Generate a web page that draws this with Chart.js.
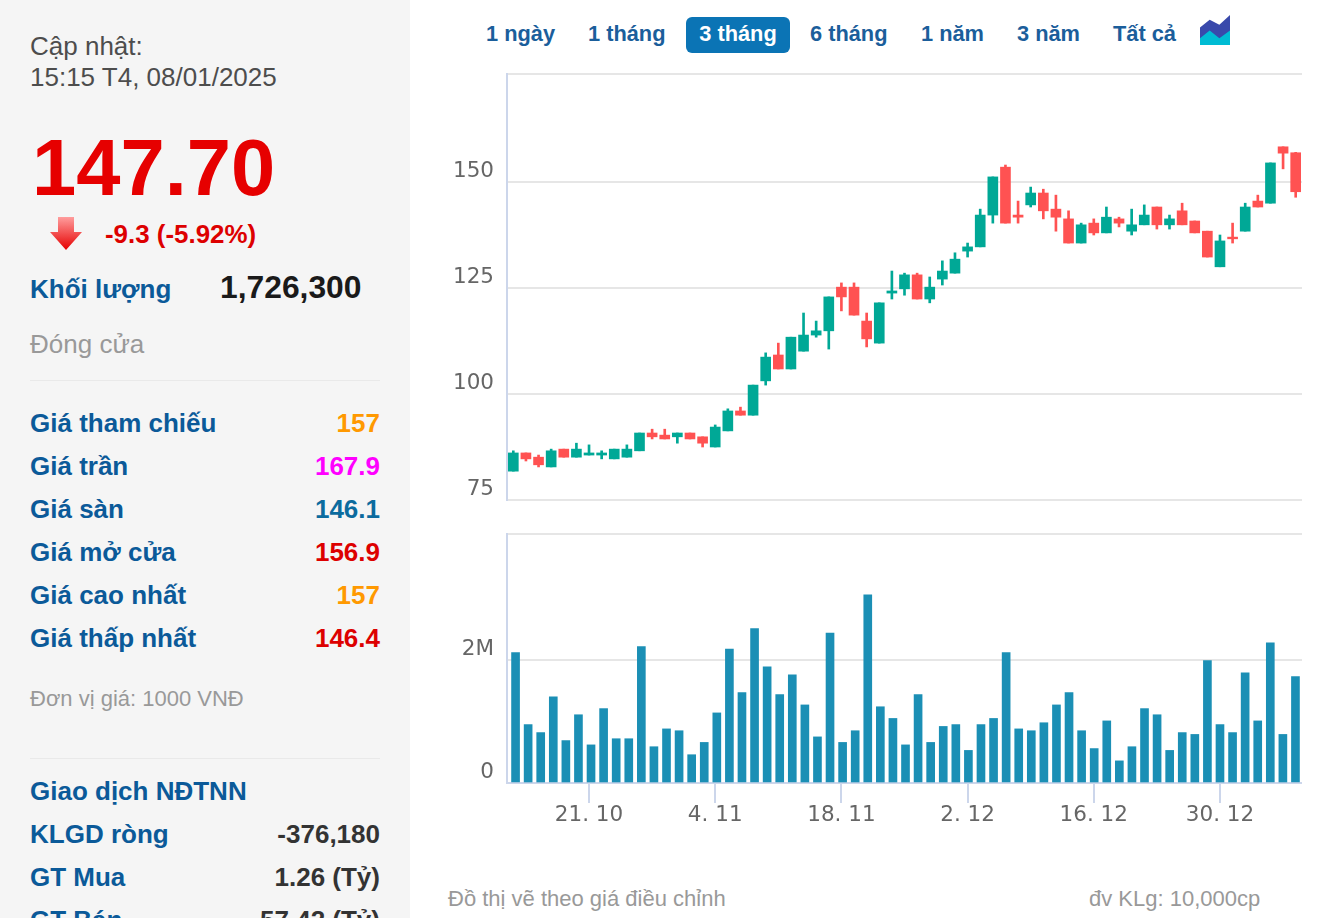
<!DOCTYPE html>
<html lang="vi">
<head>
<meta charset="utf-8">
<title>Biểu đồ giá</title>
<script src="https://cdn.jsdelivr.net/npm/chart.js@4"></script>
<style>
html,body{margin:0;padding:0;width:1336px;height:918px;overflow:hidden;background:#fff;font-family:"Liberation Sans",Arial,sans-serif}
#side{position:absolute;left:0;top:0;width:410px;height:918px;background:#f5f5f5}
.t{position:absolute;white-space:nowrap;transform:translateY(-50%);line-height:1.2}
.b{font-weight:700}
.blue{color:#0b5a99}
.r{text-align:right;right:30px}
.rule{position:absolute;left:30px;width:350px;height:1px;background:#e9e9e9}
.btn{position:absolute;top:17px;height:36px;line-height:33px;font-size:21.8px;font-weight:700;color:#1b5e9b;white-space:nowrap}
#active{left:686px;width:104px;background:#0b74b5;color:#fff;border-radius:6px;text-align:center}
canvas{position:absolute}
</style>
</head>
<body>
<div id="side">
  <div class="t" style="left:30px;top:47px;font-size:26px;color:#4d4d4d">Cập nhật:</div>
  <div class="t" style="left:30px;top:78px;font-size:26px;color:#4d4d4d">15:15 T4, 08/01/2025</div>
  <div class="t b" style="left:32px;top:168px;font-size:79.5px;color:#e60000">147.70</div>
  <svg style="position:absolute;left:50px;top:216px" width="32" height="36" viewBox="0 0 32 36">
    <defs><linearGradient id="ag" x1="0" y1="0" x2="0" y2="1"><stop offset="0" stop-color="#ff9d9d"/><stop offset="1" stop-color="#e60000"/></linearGradient></defs>
    <polygon points="8,1 24,1 24,16 32,16 16,34 0,16 8,16" fill="url(#ag)"/>
  </svg>
  <div class="t b" style="left:105px;top:235px;font-size:25.9px;color:#dd0000">-9.3 (-5.92%)</div>
  <div class="t b blue" style="left:30px;top:290px;font-size:26px">Khối lượng</div>
  <div class="t b" style="left:220px;top:287px;font-size:31.8px;color:#1a1a1a">1,726,300</div>
  <div class="t" style="left:30px;top:345px;font-size:26px;color:#999">Đóng cửa</div>
  <div class="rule" style="top:380px"></div>
  <div class="t b blue" style="left:30px;top:424px;font-size:26px">Giá tham chiếu</div>
  <div class="t b r" style="top:424px;font-size:26px;color:#ff9900">157</div>
  <div class="t b blue" style="left:30px;top:467px;font-size:26px">Giá trần</div>
  <div class="t b r" style="top:467px;font-size:26px;color:#ff00ff">167.9</div>
  <div class="t b blue" style="left:30px;top:510px;font-size:26px">Giá sàn</div>
  <div class="t b r" style="top:510px;font-size:26px;color:#0b6b9e">146.1</div>
  <div class="t b blue" style="left:30px;top:553px;font-size:26px">Giá mở cửa</div>
  <div class="t b r" style="top:553px;font-size:26px;color:#dd0000">156.9</div>
  <div class="t b blue" style="left:30px;top:596px;font-size:26px">Giá cao nhất</div>
  <div class="t b r" style="top:596px;font-size:26px;color:#ff9900">157</div>
  <div class="t b blue" style="left:30px;top:639px;font-size:26px">Giá thấp nhất</div>
  <div class="t b r" style="top:639px;font-size:26px;color:#dd0000">146.4</div>
  <div class="t" style="left:30px;top:699px;font-size:22px;color:#999">Đơn vị giá: 1000 VNĐ</div>
  <div class="rule" style="top:758px"></div>
  <div class="t b blue" style="left:30px;top:792px;font-size:26px">Giao dịch NĐTNN</div>
  <div class="t b blue" style="left:30px;top:835px;font-size:26px">KLGD ròng</div>
  <div class="t b r" style="top:835px;font-size:26px;color:#333">-376,180</div>
  <div class="t b blue" style="left:30px;top:878px;font-size:26px">GT Mua</div>
  <div class="t b r" style="top:878px;font-size:26px;color:#333">1.26 (Tỷ)</div>
  <div class="t b blue" style="left:30px;top:921px;font-size:26px">GT Bán</div>
  <div class="t b r" style="top:921px;font-size:26px;color:#333">57.42 (Tỷ)</div>
</div>

<div class="btn" style="left:486px">1 ngày</div>
<div class="btn" style="left:588px">1 tháng</div>
<div class="btn" id="active">3 tháng</div>
<div class="btn" style="left:810px">6 tháng</div>
<div class="btn" style="left:921px">1 năm</div>
<div class="btn" style="left:1017px">3 năm</div>
<div class="btn" style="left:1113px">Tất cả</div>
<svg style="position:absolute;left:1200px;top:15px" width="30" height="30" viewBox="0 0 31 31">
  <polygon points="0,20 10,12 20,18 31,7 31,31 0,31" fill="#00bcd4"/>
  <polygon points="0,13 10,5 20,10 31,0 31,16 20,24 10,16 0,24" fill="#3949ab"/>
</svg>

<canvas id="priceChart" width="882" height="450" style="left:420px;top:60px"></canvas>
<canvas id="volumeChart" width="882" height="320" style="left:420px;top:520px"></canvas>

<div class="t" style="left:448px;top:899px;font-size:22px;color:#999">Đồ thị vẽ theo giá điều chỉnh</div>
<div class="t" style="left:1089px;top:899px;font-size:22px;color:#999">đv KLg: 10,000cp</div>

<script>
const categories = ["11. 10","14. 10","15. 10","16. 10","17. 10","18. 10","21. 10","22. 10","23. 10","24. 10","25. 10","28. 10","29. 10","30. 10","31. 10","1. 11","4. 11","5. 11","6. 11","7. 11","8. 11","11. 11","12. 11","13. 11","14. 11","15. 11","18. 11","19. 11","20. 11","21. 11","22. 11","25. 11","26. 11","27. 11","28. 11","29. 11","2. 12","3. 12","4. 12","5. 12","6. 12","9. 12","10. 12","11. 12","12. 12","13. 12","16. 12","17. 12","18. 12","19. 12","20. 12","23. 12","24. 12","25. 12","26. 12","27. 12","30. 12","31. 12","2. 1","3. 1","6. 1","7. 1","8. 1"];
const tickedDates = ["21. 10","4. 11","18. 11","2. 12","16. 12","30. 12"];
const priceTicks = [75,100,125,150,175.47];
const volumeTicks = [0,2000000,4050000];

const opens  = [81.8,86.1,85.1,82.8,87.0,85.1,85.6,85.6,84.7,85.1,86.6,90.8,90.3,89.9,90.8,89.9,87.5,91.3,96.0,95.0,103.1,109.2,105.9,110.1,113.9,114.9,125.2,125.2,117.2,112.0,123.8,124.8,128.1,122.4,127.1,128.5,133.7,134.7,142.2,153.5,142.2,144.6,147.4,143.6,141.3,135.6,140.3,138.0,141.3,138.4,139.9,144.1,139.9,143.2,140.8,138.4,130.0,137.0,138.4,145.5,145.0,158.3,156.9];
const highs  = [86.6,86.1,85.6,87.0,87.0,88.4,88.0,86.6,87.0,88.0,90.8,91.7,91.7,90.8,90.8,89.9,92.7,96.5,96.9,102.1,109.7,112.0,113.4,119.1,117.2,122.9,126.2,126.2,119.1,121.5,129.0,128.5,128.5,127.6,131.4,133.3,135.6,143.6,151.2,154.0,145.5,148.8,148.3,146.9,143.2,140.3,141.3,144.1,141.7,143.6,144.6,144.1,142.2,145.0,140.8,138.4,137.5,140.3,145.0,146.9,154.5,158.3,157.0];
const lows   = [81.8,84.2,82.8,82.8,85.1,85.1,85.6,84.7,84.7,85.1,86.6,89.4,89.4,88.4,89.4,87.5,87.5,91.3,95.0,95.0,102.1,105.9,105.9,110.1,113.4,110.6,119.6,118.6,111.1,112.0,122.4,123.3,122.4,121.5,125.7,128.5,132.3,134.7,140.3,140.3,140.3,144.1,141.3,138.4,135.6,135.6,137.5,138.0,139.4,137.5,139.9,138.9,138.9,139.9,138.0,132.3,130.0,135.6,138.4,144.1,145.0,153.1,146.4];
const closes = [86.1,84.7,83.3,86.6,85.1,87.0,86.1,86.1,87.0,87.0,90.8,89.9,89.4,90.8,89.4,88.4,92.2,96.0,95.0,102.1,108.7,105.9,113.4,113.9,114.9,122.9,122.9,118.6,113.0,121.5,124.3,128.1,122.4,125.2,129.0,131.8,134.7,142.2,151.2,140.3,141.7,147.4,143.2,141.7,135.6,139.9,138.0,141.7,140.3,139.9,142.2,139.9,141.3,139.9,138.0,132.3,136.1,136.6,144.1,144.1,154.5,156.8,147.7];
const volumes = [2120000,950000,820000,1400000,690000,1110000,620000,1210000,720000,720000,2220000,590000,880000,850000,460000,660000,1140000,2180000,1470000,2510000,1890000,1440000,1760000,1270000,750000,2440000,660000,850000,3060000,1240000,1050000,620000,1440000,660000,920000,950000,530000,950000,1050000,2120000,880000,850000,980000,1270000,1470000,850000,560000,1010000,360000,590000,1210000,1110000,530000,820000,790000,1990000,950000,820000,1790000,1010000,2280000,790000,1730000];

const UP = "#00a896", DOWN = "#ff5252", VOL = "#1b8fb5";
const GRID = "#e6e6e6", AXIS = "#ccd6eb", LABEL = "#666666";
const tickFont = {family:"'DejaVu Sans'", size:21.5};
const candleColor = c => closes[c.dataIndex] >= opens[c.dataIndex] ? UP : DOWN;
const fitY = s => { s.width = 87; s.paddingTop = 0; s.paddingBottom = 0; };

new Chart(document.getElementById("priceChart"), {
  type:"bar",
  data:{
    labels:categories,
    datasets:[
      {label:"wick", data:lows.map((l,i)=>[l,highs[i]]), backgroundColor:candleColor, barThickness:2, grouped:false, order:2},
      {label:"body", data:opens.map((o,i)=>[o,closes[i]]), backgroundColor:candleColor, barThickness:10, grouped:false, order:1}
    ]
  },
  options:{
    responsive:false, animation:false, devicePixelRatio:1,
    layout:{padding:{top:14,bottom:10,left:0,right:0}},
    plugins:{legend:{display:false},tooltip:{enabled:false}},
    scales:{
      x:{display:false, offset:true},
      y:{min:75,max:175.47,afterFit:fitY,
         afterBuildTicks:s=>{s.ticks=priceTicks.map(v=>({value:v}));},
         border:{color:AXIS,width:2},
         grid:{color:GRID,lineWidth:2,drawTicks:false},
         ticks:{padding:13,labelOffset:-11,color:LABEL,font:tickFont,
                callback:v=>v>150?"":String(v)}}
    }
  }
});

new Chart(document.getElementById("volumeChart"), {
  type:"bar",
  data:{
    labels:categories,
    datasets:[
      {label:"vol", data:volumes.map((v,i)=>({x:i,y:v})), xAxisID:"xv", backgroundColor:VOL, barThickness:8}
    ]
  },
  options:{
    responsive:false, animation:false, devicePixelRatio:1,
    layout:{padding:{top:14,bottom:0,left:0,right:0}},
    plugins:{legend:{display:false},tooltip:{enabled:false}},
    scales:{
      xv:{type:"linear",axis:"x",display:false,offset:false,min:-0.68,max:62.52},
      x:{type:"category",axis:"x",offset:true,position:"bottom",
         afterFit:s=>{s.height=57;},
         afterBuildTicks:s=>{s.ticks=tickedDates.map(d=>({value:categories.indexOf(d)}));},
         border:{color:AXIS,width:2},
         grid:{offset:false,drawOnChartArea:false,drawTicks:true,tickLength:20,tickColor:AXIS,lineWidth:2},
         ticks:{autoSkip:false,maxRotation:0,padding:0,color:LABEL,font:tickFont,
                callback:function(v){return categories[v];}}},
      y:{min:0,max:4050000,afterFit:fitY,
         afterBuildTicks:s=>{s.ticks=volumeTicks.map(v=>({value:v}));},
         border:{color:AXIS,width:2},
         grid:{color:GRID,lineWidth:2,drawTicks:false},
         ticks:{padding:13,labelOffset:-11,color:LABEL,font:tickFont,
                callback:v=>v===0?"0":(v===2000000?"2M":"")}}
    }
  }
});
</script>
</body>
</html>
